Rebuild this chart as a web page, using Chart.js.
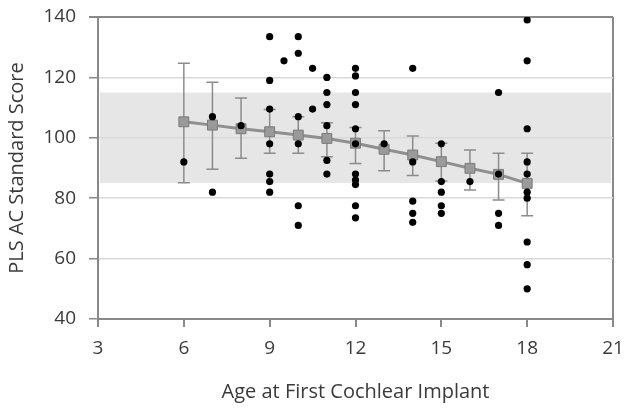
<!DOCTYPE html>
<html><head><meta charset="utf-8">
<script src="https://cdn.jsdelivr.net/npm/chart.js@4.4.1/dist/chart.umd.min.js"></script>
<style>html,body{margin:0;padding:0;background:#fff;} #wrap{width:632px;height:411px;} canvas{display:block;}</style>
</head><body>
<div id="wrap"><canvas id="c" width="632" height="411"></canvas></div>
<script>
// ---- data ----
const meanAges   = [6, 7, 8, 9, 10, 11, 12, 13, 14, 15, 16, 17, 18];
const meanScores = [105.3, 104.2, 103.0, 102.0, 100.9, 99.8, 98.2, 96.2, 94.3, 92.1, 89.9, 87.9, 84.9];
const errUpper   = [124.7, 118.4, 113.2, 109.4, 107.0, 105.0, 103.4, 102.3, 100.6, 98.2, 96.0, 94.9, 94.9];
const errLower   = [85.1, 89.6, 93.2, 94.9, 94.9, 93.7, 91.5, 89.1, 87.5, 85.7, 82.7, 79.4, 74.2];

const scatterAges = [
  6,
  7, 7,
  8,
  9, 9, 9, 9, 9, 9, 9,
  9.5,
  10, 10, 10, 10, 10, 10,
  10.5, 10.5,
  11, 11, 11, 11, 11, 11,
  12, 12, 12, 12, 12, 12, 12, 12, 12, 12, 12,
  13,
  14, 14, 14, 14, 14,
  15, 15, 15, 15, 15,
  16,
  17, 17, 17, 17,
  18, 18, 18, 18, 18, 18, 18, 18, 18, 18
];
const scatterScores = [
  92,
  107, 82,
  104,
  133.5, 119, 109.5, 98, 88, 85.5, 82,
  125.5,
  133.5, 128, 107, 98, 77.5, 71,
  123, 109.5,
  120, 115, 111, 104, 92.5, 88,
  123, 120.5, 115, 111, 103, 98, 88, 86, 84.5, 77.5, 73.5,
  98,
  123, 92, 79, 75, 72,
  98, 85.5, 82, 77.5, 75,
  85.5,
  115, 88, 75, 71,
  139, 125.5, 103, 92, 88, 82, 80, 65.5, 58, 50
];

const xTicks = [3, 6, 9, 12, 15, 18, 21];
const yTicks = [40, 60, 80, 100, 120, 140];
const normalBandLow = 85;
const normalBandHigh = 115;

const xTitle = 'Age at First Cochlear Implant';
const yTitle = 'PLS AC Standard Score';

// ---- styles ----
const AXIS = '#898989';
const GRID = '#d9d9d9';
const TEXT = '#3a3a3a';
const FONT = '"Open Sans", "DejaVu Sans", sans-serif';

const bandPlugin = {
  id: 'band',
  beforeDraw(chart) {
    const {ctx, scales: {x, y}} = chart;
    const t = y.getPixelForValue(normalBandHigh);
    const b = y.getPixelForValue(normalBandLow);
    const l = x.getPixelForValue(x.min) + 2;
    const r = x.getPixelForValue(x.max) - 2;
    ctx.save();
    ctx.fillStyle = '#e6e6e6';
    ctx.fillRect(l, t, r - l, b - t);
    ctx.restore();
  }
};

const errPlugin = {
  id: 'errbars',
  beforeDatasetsDraw(chart) {
    const {ctx, scales: {x, y}} = chart;
    ctx.save();
    ctx.strokeStyle = '#8c8c8c';
    ctx.lineWidth = 1.5;
    const cap = 6;
    for (let i = 0; i < meanAges.length; i++) {
      const px = x.getPixelForValue(meanAges[i]);
      const yt = y.getPixelForValue(errUpper[i]);
      const yb = y.getPixelForValue(errLower[i]);
      ctx.beginPath();
      ctx.moveTo(px, yt); ctx.lineTo(px, yb);
      ctx.moveTo(px - cap, yt); ctx.lineTo(px + cap, yt);
      ctx.moveTo(px - cap, yb); ctx.lineTo(px + cap, yb);
      ctx.stroke();
    }
    ctx.restore();
  }
};

new Chart(document.getElementById('c'), {
  type: 'scatter',
  data: {
    datasets: [
      {
        label: 'Individual',
        data: scatterAges.map((a, i) => ({x: a, y: scatterScores[i]})),
        pointStyle: 'circle',
        pointRadius: 3.6,
        pointBackgroundColor: '#000',
        pointBorderColor: '#000',
        pointBorderWidth: 0,
        showLine: false,
        order: 0
      },
      {
        label: 'Mean',
        type: 'line',
        data: meanAges.map((a, i) => ({x: a, y: meanScores[i]})),
        borderColor: '#8f8f8f',
        borderWidth: 3,
        pointStyle: 'rect',
        pointRadius: 7,
        pointBackgroundColor: '#9a9a9a',
        pointBorderColor: '#7a7a7a',
        pointBorderWidth: 1,
        tension: 0,
        fill: false,
        order: 1
      }
    ]
  },
  options: {
    responsive: false,
    animation: false,
    events: [],
    layout: {padding: {left: 0, right: 19, top: 17, bottom: 0}},
    plugins: {legend: {display: false}, tooltip: {enabled: false}},
    scales: {
      x: {
        type: 'linear',
        min: 3, max: 21,
        afterBuildTicks: s => { s.ticks = xTicks.map(v => ({value: v})); },
        afterFit: s => { s.height = 92; s.paddingLeft = 0; s.paddingRight = 0; },
        border: {display: true, color: AXIS, width: 2},
        grid: {
          display: true,
          drawOnChartArea: true,
          color: c => (c.tick && c.tick.value === 21) ? AXIS : 'rgba(0,0,0,0)',
          lineWidth: 2,
          tickColor: AXIS,
          tickLength: 8,
          drawTicks: true
        },
        ticks: {color: TEXT, font: {family: FONT, size: 19}, padding: 10, maxRotation: 0, autoSkip: false},
        title: {display: true, text: xTitle, color: TEXT, font: {family: FONT, size: 20}, padding: {top: 0, bottom: 7}}
      },
      y: {
        type: 'linear',
        min: 40, max: 140,
        afterBuildTicks: s => { s.ticks = yTicks.map(v => ({value: v})); },
        afterFit: s => { s.width = 98; s.paddingTop = 0; s.paddingBottom = 0; },
        border: {display: true, color: AXIS, width: 2},
        grid: {
          color: c => (c.tick && c.tick.value === 140) ? AXIS : GRID,
          lineWidth: c => (c.tick && c.tick.value === 140) ? 2 : 1.5,
          tickColor: AXIS,
          tickLength: 9,
          drawTicks: true
        },
        ticks: {color: TEXT, font: {family: FONT, size: 19}, padding: 13, autoSkip: false},
        title: {display: true, text: yTitle, color: TEXT, font: {family: FONT, size: 20}, padding: {top: 5, bottom: 0}}
      }
    }
  },
  plugins: [bandPlugin, errPlugin]
});
</script>
</body></html>
